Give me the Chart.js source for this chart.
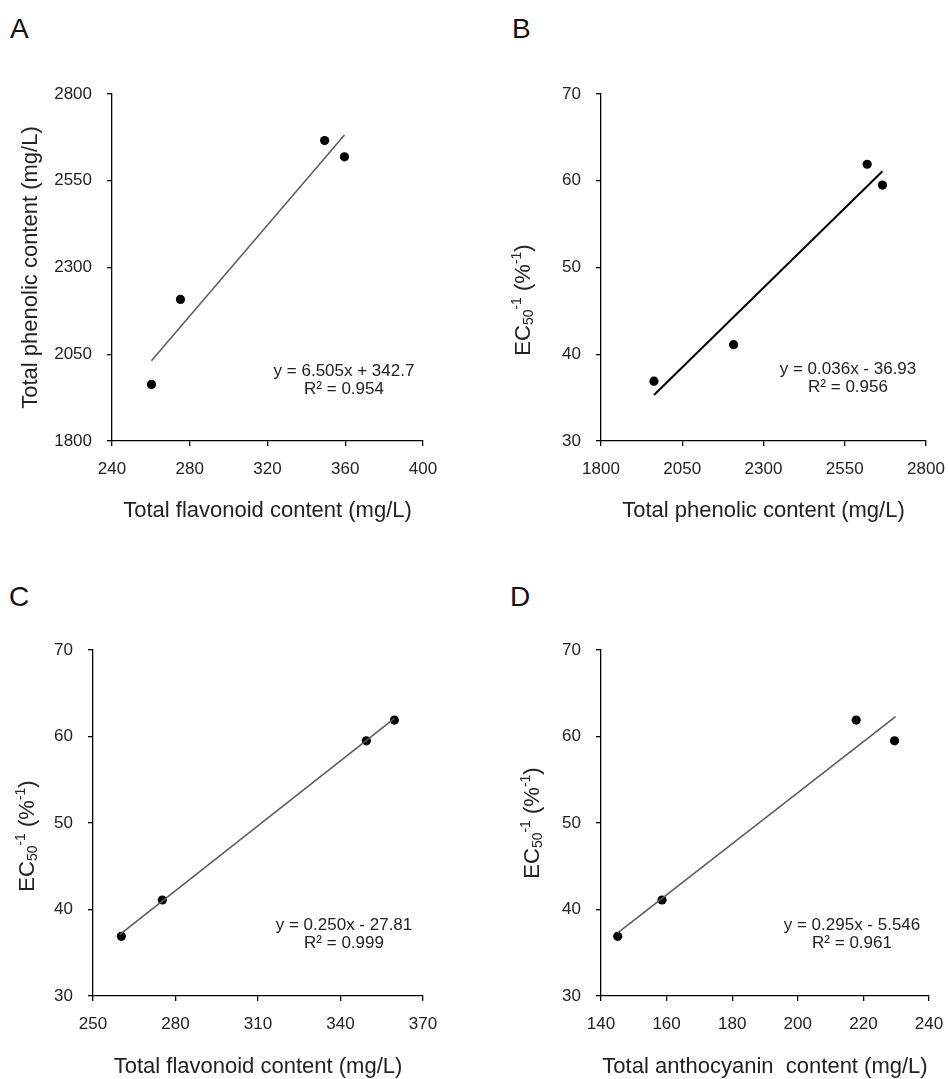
<!DOCTYPE html>
<html>
<head>
<meta charset="utf-8">
<title>Correlation plots</title>
<script src="https://cdn.jsdelivr.net/npm/chart.js@4.4.1/dist/chart.umd.min.js"></script>
<style>
  body {
    margin: 0;
    width: 948px;
    height: 1079px;
    position: relative;
    overflow: hidden;
    background: #fff;
    font-family: "Liberation Sans", Arial, sans-serif;
  }
  canvas { position: absolute; }
  .panel-label { position: absolute; line-height: 1; color: #111; font-size: 28px; }
</style>
</head>
<body>
<div class="panel-label" style="left:10px;top:15px">A</div>
<div class="panel-label" style="left:512px;top:15px">B</div>
<div class="panel-label" style="left:9px;top:583px">C</div>
<div class="panel-label" style="left:510px;top:583px">D</div>

<canvas id="chartA" width="474" height="523" style="left:0;top:0"></canvas>
<canvas id="chartB" width="474" height="523" style="left:474px;top:0"></canvas>
<canvas id="chartC" width="474" height="523" style="left:0;top:556px"></canvas>
<canvas id="chartD" width="474" height="523" style="left:474px;top:556px"></canvas>

<script>
// values (one entry per sample)
const flavonoid = [260.3, 275.2, 349.4, 359.6];
const phenolic = [1963, 2208, 2666, 2619];
const anthocyanin = [145.1, 158.6, 229.5, 217.8];
const ec50inv = [36.9, 41.1, 59.5, 61.9];

// fitted lines, end points as drawn
const trendA = { x: [260.3, 359.6], y: [2031, 2682] };
const trendB = { x: [1963, 2666], y: [35.3, 61.1] };
const trendC = { x: [259.7, 359.6], y: [37.1, 62.1] };
const trendD = { x: [145.1, 229.8], y: [37.3, 62.3] };

// tick labels
const flavonoidTicksA = [240, 280, 320, 360, 400];
const phenolicTicks = [1800, 2050, 2300, 2550, 2800];
const flavonoidTicksC = [250, 280, 310, 340, 370];
const anthocyaninTicks = [140, 160, 180, 200, 220, 240];
const ecTicks = [30, 40, 50, 60, 70];

// equation labels
const eqA = ["y = 6.505x + 342.7", "R\u00B2 = 0.954"];
const eqB = ["y = 0.036x - 36.93", "R\u00B2 = 0.956"];
const eqC = ["y = 0.250x - 27.81", "R\u00B2 = 0.999"];
const eqD = ["y = 0.295x - 5.546", "R\u00B2 = 0.961"];

const FONT = '"Liberation Sans", Arial, sans-serif';
const TEXT = "#222";

Chart.defaults.font.family = FONT;
Chart.defaults.color = TEXT;

// EC50^-1 (%^-1) needs sub/superscripts, so it is drawn in pieces
const ecTitle = [
  { text: "EC", size: 22, dy: 0 },
  { text: "50", size: 14, dy: 5 },
  { text: "-1", size: 14, dy: -7 },
  { text: " (%", size: 22, dy: 0 },
  { text: "-1", size: 14, dy: -7 },
  { text: ")", size: 22, dy: 0 },
];

const drawRichTitle = (ctx, parts, cx, cy) => {
  ctx.save();
  ctx.translate(cx, cy);
  ctx.rotate(-Math.PI / 2);
  ctx.textAlign = "left";
  ctx.textBaseline = "middle";
  let total = 0;
  const widths = parts.map((p) => {
    ctx.font = `${p.size}px ${FONT}`;
    const w = ctx.measureText(p.text).width;
    total += w;
    return w;
  });
  let x = -total / 2;
  parts.forEach((p, i) => {
    ctx.font = `${p.size}px ${FONT}`;
    ctx.fillText(p.text, x, p.dy);
    x += widths[i];
  });
  ctx.restore();
};

const annotationPlugin = {
  id: "annotations",
  afterDatasetsDraw(chart, args, opts) {
    const ctx = chart.ctx;
    ctx.save();
    ctx.fillStyle = TEXT;
    ctx.font = `17px ${FONT}`;
    ctx.textAlign = "center";
    ctx.textBaseline = "middle";
    opts.lines.forEach((line, i) => ctx.fillText(line, opts.x, opts.y + i * 18.5));
    if (opts.richTitle) {
      drawRichTitle(ctx, ecTitle, opts.richTitle.x, opts.richTitle.y);
    }
    ctx.restore();
  },
};

const axisOptions = (ticks, title, size, extra) => ({
  type: "linear",
  min: ticks[0],
  max: ticks[ticks.length - 1],
  afterBuildTicks: (scale) => {
    scale.ticks = ticks.map((value) => ({ value }));
  },
  afterFit: (scale) => {
    if (scale.isHorizontal()) scale.height = size;
    else scale.width = size;
    // labels may hang over the edges; don't let that shrink the plot area
    scale.paddingLeft = scale.paddingRight = scale.paddingTop = scale.paddingBottom = 0;
  },
  border: { display: true, color: "#000", width: 1.3 },
  grid: {
    display: true,
    drawOnChartArea: false,
    drawTicks: true,
    tickLength: 5,
    color: "#000",
    lineWidth: 1.3,
  },
  ticks: {
    color: TEXT,
    font: { size: 17 },
    padding: extra.tickPad,
    autoSkip: false,
    maxRotation: 0,
    callback: (value) => String(value), // no thousands separator
  },
  title: {
    display: !!title,
    text: title,
    color: TEXT,
    font: { size: 22, lineHeight: 1 },
    padding: extra.titlePad,
  },
});

const makePanel = (id, p) => {
  const points = p.xs.map((x, i) => ({ x, y: p.ys[i] }));
  const line = p.trend.x.map((x, i) => ({ x, y: p.trend.y[i] }));
  return new Chart(document.getElementById(id), {
    type: "scatter",
    data: {
      datasets: [
        {
          data: line,
          showLine: true,
          borderColor: p.lineColor,
          borderWidth: p.lineWidth,
          pointRadius: 0,
          fill: false,
        },
        {
          data: points,
          backgroundColor: "#000",
          borderColor: "#000",
          borderWidth: 0,
          pointRadius: 4.6,
        },
      ],
    },
    options: {
      responsive: false,
      animation: false,
      devicePixelRatio: 1,
      layout: { padding: { top: p.area.top, right: 474 - p.area.right, left: 0, bottom: 0 } },
      plugins: {
        legend: { display: false },
        tooltip: { enabled: false },
        annotations: { lines: p.eq, x: p.eqPos[0], y: p.eqPos[1], richTitle: p.richTitle },
      },
      scales: {
        x: axisOptions(p.xTicks, p.xTitle, 523 - p.area.bottom, {
          tickPad: 13,
          titlePad: { top: 0, bottom: 1 },
        }),
        y: axisOptions(p.yTicks, p.yTitle, p.area.left, {
          tickPad: 15,
          titlePad: { top: 20, bottom: 0 },
        }),
      },
    },
    plugins: [annotationPlugin],
  });
};

makePanel("chartA", {
  xs: flavonoid,
  ys: phenolic,
  trend: trendA,
  lineColor: "#5a5a5a",
  lineWidth: 1.5,
  xTicks: flavonoidTicksA,
  yTicks: phenolicTicks,
  xTitle: "Total flavonoid content (mg/L)",
  yTitle: "Total phenolic content (mg/L)",
  eq: eqA,
  eqPos: [344, 371],
  area: { left: 112, top: 94, right: 423, bottom: 441 },
});

makePanel("chartB", {
  xs: phenolic,
  ys: ec50inv,
  trend: trendB,
  lineColor: "#000",
  lineWidth: 2,
  xTicks: phenolicTicks,
  yTicks: ecTicks,
  xTitle: "Total phenolic content (mg/L)",
  yTitle: "",
  eq: eqB,
  eqPos: [374, 369],
  richTitle: { x: 50, y: 300 },
  area: { left: 127, top: 94, right: 452, bottom: 441 },
});

makePanel("chartC", {
  xs: flavonoid,
  ys: ec50inv,
  trend: trendC,
  lineColor: "#5a5a5a",
  lineWidth: 1.5,
  xTicks: flavonoidTicksC,
  yTicks: ecTicks,
  xTitle: "Total flavonoid content (mg/L)",
  yTitle: "",
  eq: eqC,
  eqPos: [344, 369],
  richTitle: { x: 28, y: 280 },
  area: { left: 93, top: 94, right: 423, bottom: 440 },
});

makePanel("chartD", {
  xs: anthocyanin,
  ys: ec50inv,
  trend: trendD,
  lineColor: "#5a5a5a",
  lineWidth: 1.5,
  xTicks: anthocyaninTicks,
  yTicks: ecTicks,
  xTitle: "Total anthocyanin  content (mg/L)",
  yTitle: "",
  eq: eqD,
  eqPos: [378, 369],
  richTitle: { x: 59, y: 267 },
  area: { left: 127, top: 94, right: 455, bottom: 440 },
});
</script>
</body>
</html>
